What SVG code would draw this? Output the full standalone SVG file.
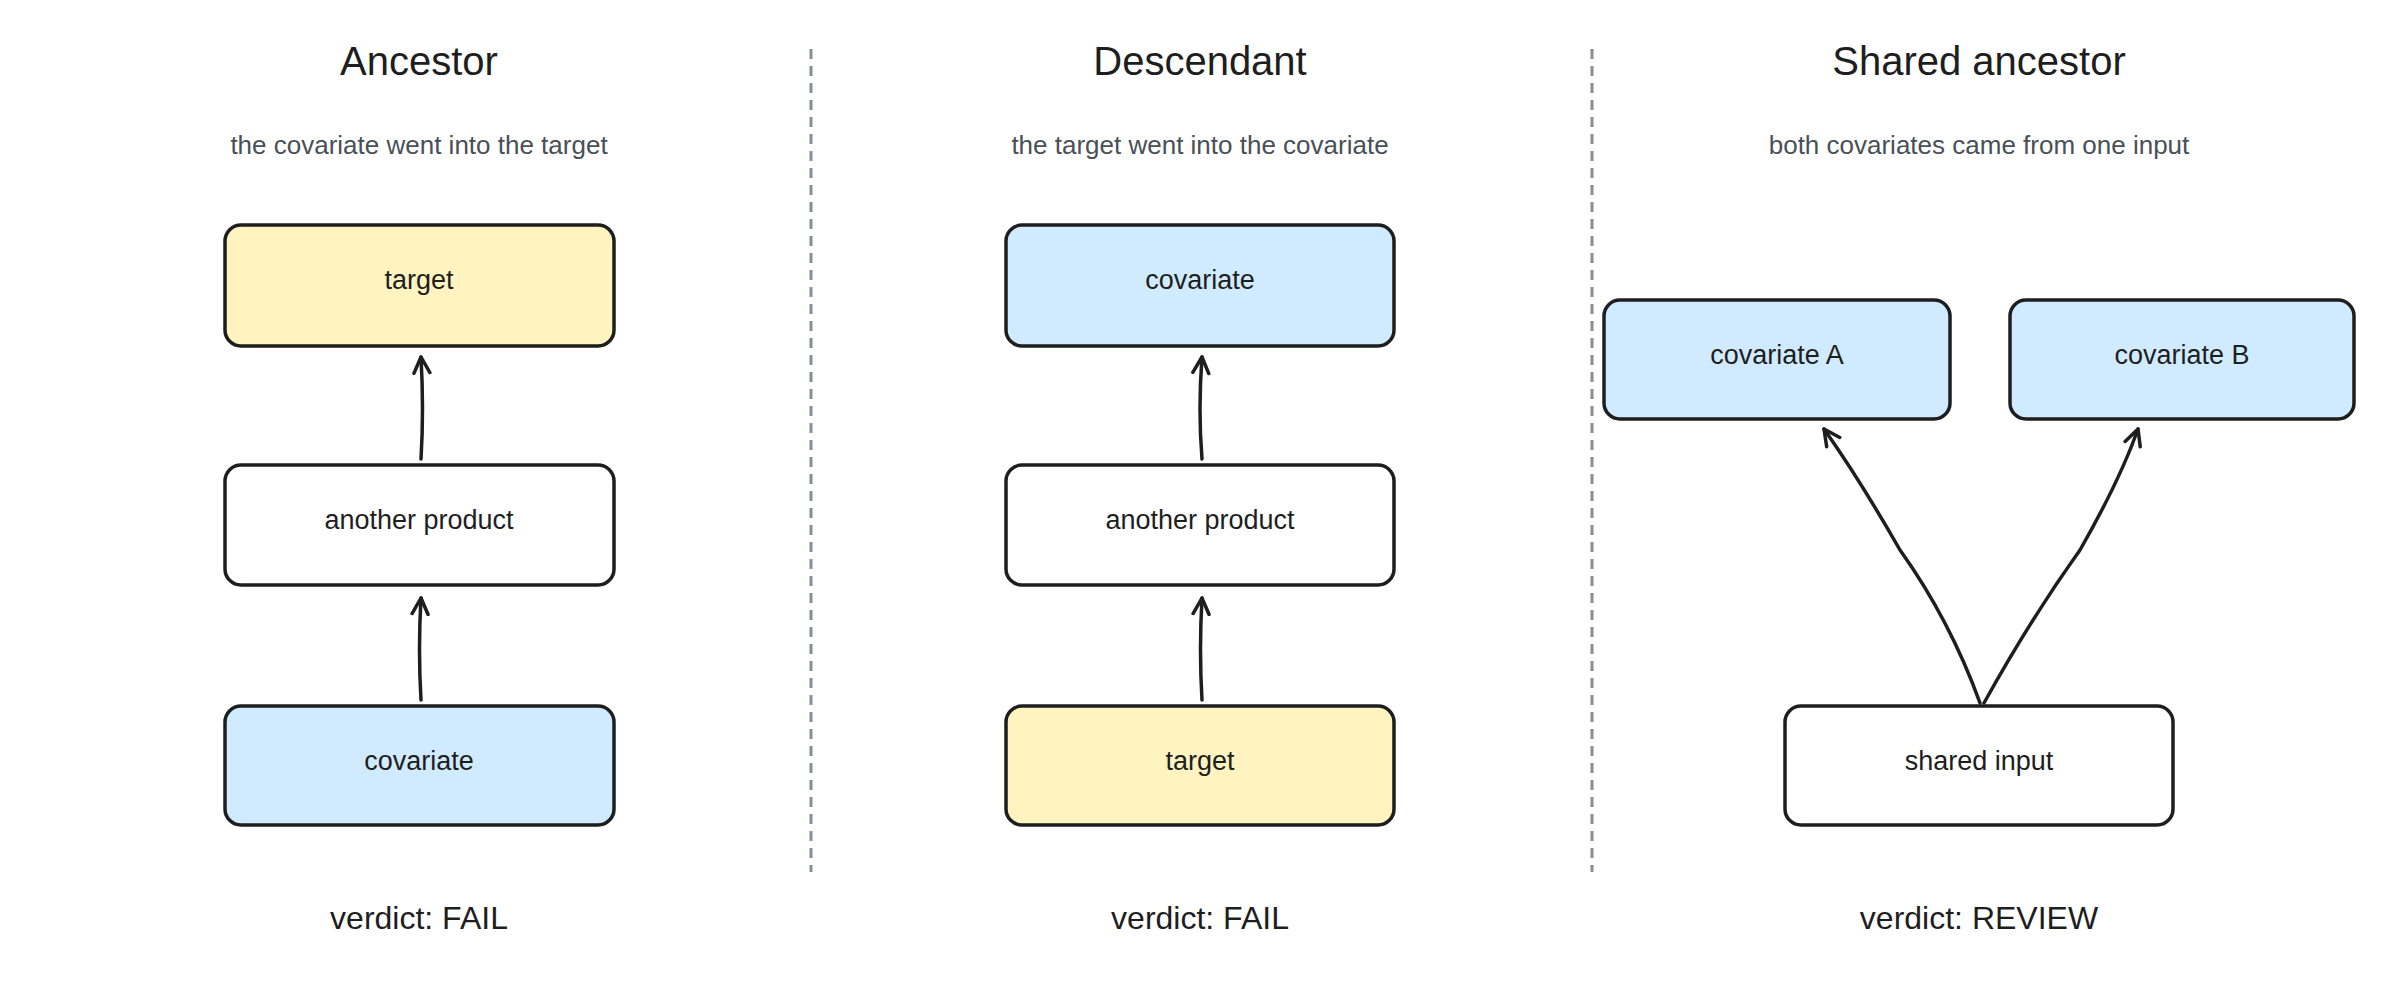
<svg xmlns="http://www.w3.org/2000/svg" width="2400" height="990" viewBox="0 0 2400 990">
<style>
text{font-family:"Liberation Sans",Arial,sans-serif;fill:#1e1e1e;text-anchor:middle}
.t{font-size:40px}
.s{font-size:26px;fill:#495057}
.n{font-size:27px}
.v{font-size:32px}
.box{stroke:#1e1e1e;stroke-width:3.5;}
.y{fill:#fff3bf}.b{fill:#d0ebff}.w{fill:#ffffff}
.c{fill:none;stroke:#1e1e1e;stroke-width:3.5;stroke-linecap:round}
.d{stroke:#868e96;stroke-width:3;stroke-dasharray:10 7}
</style>
<defs><marker id="a" viewBox="0 0 20 20" refX="18" refY="10" markerWidth="20" markerHeight="20" markerUnits="userSpaceOnUse" orient="auto"><path d="M2 2 L18 10 L2 18" fill="none" stroke="#1e1e1e" stroke-width="3.5" stroke-linecap="round" stroke-linejoin="round"/></marker></defs>
<rect width="2400" height="990" fill="#fff"/>
<line class="d" x1="811" y1="49" x2="811" y2="872"/>
<line class="d" x1="1592" y1="49" x2="1592" y2="872"/>
<g id="p1">
<text class="t" x="419" y="75">Ancestor</text>
<text class="s" x="419" y="154">the covariate went into the target</text>
<text class="v" x="419" y="929">verdict: FAIL</text>
</g>
<g id="n1"><rect class="box y" x="225" y="225" width="389" height="121" rx="16"/><text class="n" x="419" y="289">target</text></g>
<g id="n2"><rect class="box w" x="225" y="465" width="389" height="120" rx="16"/><text class="n" x="419" y="529">another product</text></g>
<g id="n3"><rect class="box b" x="225" y="706" width="389" height="119" rx="16"/><text class="n" x="419" y="770">covariate</text></g>
<g id="p2">
<text class="t" x="1200" y="75">Descendant</text>
<text class="s" x="1200" y="154">the target went into the covariate</text>
<text class="v" x="1200" y="929">verdict: FAIL</text>
</g>
<g id="n4"><rect class="box b" x="1006" y="225" width="388" height="121" rx="16"/><text class="n" x="1200" y="289">covariate</text></g>
<g id="n5"><rect class="box w" x="1006" y="465" width="388" height="120" rx="16"/><text class="n" x="1200" y="529">another product</text></g>
<g id="n6"><rect class="box y" x="1006" y="706" width="388" height="119" rx="16"/><text class="n" x="1200" y="770">target</text></g>
<g id="p3">
<text class="t" x="1979" y="75">Shared ancestor</text>
<text class="s" x="1979" y="154">both covariates came from one input</text>
<text class="v" x="1979" y="929">verdict: REVIEW</text>
</g>
<g id="n7"><rect class="box b" x="1604" y="300" width="346" height="119" rx="16"/><text class="n" x="1777" y="364">covariate A</text></g>
<g id="n8"><rect class="box b" x="2010" y="300" width="344" height="119" rx="16"/><text class="n" x="2182" y="364">covariate B</text></g>
<g id="n9"><rect class="box w" x="1785" y="706" width="388" height="119" rx="16"/><text class="n" x="1979" y="770">shared input</text></g>
<g id="connectors">
<path class="c" d="M421 459 Q424 410 421 357" marker-end="url(#a)"/>
<path class="c" d="M421 700 Q418 650 421 598" marker-end="url(#a)"/>
<path class="c" d="M1202 459 Q1198 410 1202 357" marker-end="url(#a)"/>
<path class="c" d="M1202 700 Q1199 650 1202 598" marker-end="url(#a)"/>
<path class="c" d="M1980 703 Q1950 620 1900 550 Q1860 480 1824 429" marker-end="url(#a)"/>
<path class="c" d="M1984 703 Q2030 620 2080 550 Q2120 480 2138 429" marker-end="url(#a)"/>
</g>
</svg>
